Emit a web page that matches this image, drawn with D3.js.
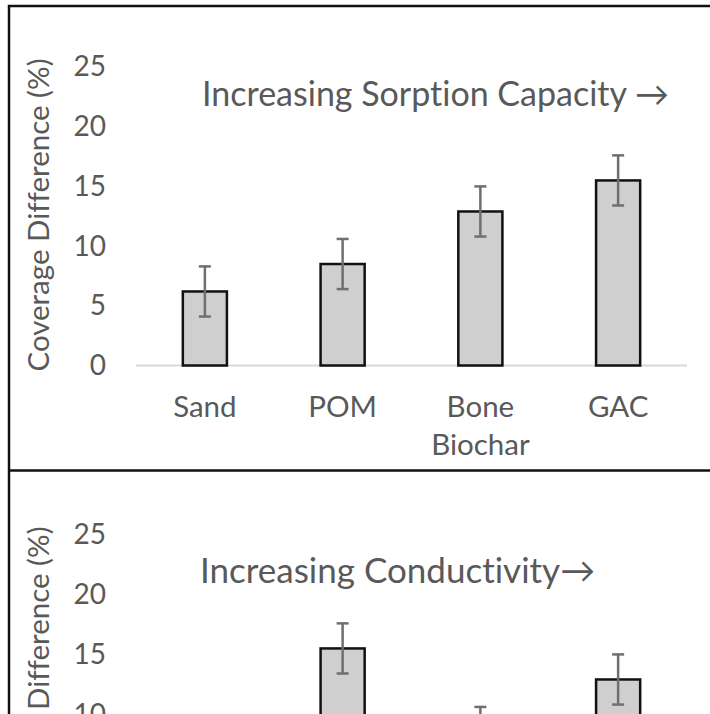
<!DOCTYPE html>
<html>
<head>
<meta charset="utf-8">
<script src="https://cdn.jsdelivr.net/npm/d3@7"></script>
<style>
  html, body { margin: 0; padding: 0; background: #fff; overflow: hidden; }
  svg { display: block; }
  text { font-family: Lato, "Open Sans", sans-serif; fill: #595959; font-variant-ligatures: none; }
</style>
</head>
<body>
<svg id="chart" width="710" height="714"></svg>
<script>
// Coverage difference by filter medium, shown in two orderings
const sorptionCategories = ["Sand", "POM", "Bone Biochar", "GAC"];
const sorptionValues = [6.2, 8.5, 12.9, 15.5];
const sorptionErrors = [2.1, 2.1, 2.1, 2.1];

const conductivityCategories = ["Sand", "GAC", "POM", "Bone Biochar"];
const conductivityValues = [6.2, 15.5, 8.5, 12.9];
const conductivityErrors = [2.1, 2.1, 2.1, 2.1];

const yTicks = [0, 5, 10, 15, 20, 25];
const yTitle = "Coverage Difference (%)";
const sorptionNote = "Increasing Sorption Capacity \u2192";
const conductivityNote = "Increasing Conductivity\u2192";

const svg = d3.select("#chart");

// outer frame (continues past the right and bottom edges) and panel divider
svg.append("rect")
  .attr("x", 9).attr("y", 6).attr("width", 760).attr("height", 1000)
  .attr("fill", "none").attr("stroke", "#111").attr("stroke-width", 2.5);
svg.append("line")
  .attr("x1", 9).attr("x2", 760).attr("y1", 470.5).attr("y2", 470.5)
  .attr("stroke", "#111").attr("stroke-width", 2.5);

function drawPanel(top, cats, vals, errs, note, noteX, noteY, noteSize) {
  const g = svg.append("g").attr("transform", `translate(0,${top})`);

  const x = d3.scaleBand().domain(cats).range([136, 687])
    .paddingInner(0.68).paddingOuter(0.34);
  const y = d3.scaleLinear().domain([0, 25]).range([359.5, 61]);

  // value axis labels
  const yAxis = g.append("g").attr("transform", "translate(106,0)")
    .call(d3.axisLeft(y).tickValues(yTicks).tickSize(0).tickPadding(0));
  yAxis.select(".domain").remove();
  yAxis.selectAll("text")
    .style("font-family", "Lato, sans-serif")
    .style("font-size", "28px").attr("fill", "#595959");

  // axis title
  g.append("text")
    .attr("transform", "translate(49,209) rotate(-90)")
    .attr("text-anchor", "middle")
    .style("font-size", "29.5px")
    .text(yTitle);

  // baseline
  g.append("line")
    .attr("x1", 136).attr("x2", 687).attr("y1", y(0)).attr("y2", y(0))
    .attr("stroke", "#d9d9d9").attr("stroke-width", 2);

  const rows = cats.map((c, i) => ({ c, v: vals[i], e: errs[i] }));

  // bars
  g.selectAll("rect.bar").data(rows).join("rect")
    .attr("class", "bar")
    .attr("x", d => x(d.c))
    .attr("width", x.bandwidth())
    .attr("y", d => y(d.v))
    .attr("height", d => y(0) - y(d.v))
    .attr("fill", "#d0cfcf")
    .attr("stroke", "#111").attr("stroke-width", 2.5);

  // error bars
  const eb = g.selectAll("g.err").data(rows).join("g").attr("class", "err")
    .attr("stroke", "#6f6f6f").attr("stroke-width", 2.5);
  const cx = d => x(d.c) + x.bandwidth() / 2;
  eb.append("line")
    .attr("x1", cx).attr("x2", cx)
    .attr("y1", d => y(d.v + d.e)).attr("y2", d => y(d.v - d.e));
  [1, -1].forEach(s => {
    eb.append("line")
      .attr("x1", d => cx(d) - 6).attr("x2", d => cx(d) + 6)
      .attr("y1", d => y(d.v + s * d.e)).attr("y2", d => y(d.v + s * d.e));
  });

  // category labels (wrapped on spaces)
  const xAxis = g.append("g").attr("transform", `translate(0,${y(0)})`)
    .call(d3.axisBottom(x).tickSize(0).tickPadding(0));
  xAxis.select(".domain").remove();
  xAxis.selectAll("text")
    .style("font-family", "Lato, sans-serif")
    .style("font-size", "29.5px").attr("fill", "#595959")
    .attr("dy", null).attr("y", 0)
    .each(function (d) {
      const t = d3.select(this).text(null);
      d.split(" ").forEach((w, i) => {
        t.append("tspan").attr("x", 0).attr("y", 51 + i * 38).text(w);
      });
    });

  // annotation
  g.append("text")
    .attr("x", noteX).attr("y", noteY)
    .style("font-size", noteSize + "px")
    .text(note);
}

drawPanel(6, sorptionCategories, sorptionValues, sorptionErrors, sorptionNote, 202, 100, 34);
drawPanel(474, conductivityCategories, conductivityValues, conductivityErrors, conductivityNote, 200, 109, 35);
</script>
</body>
</html>
